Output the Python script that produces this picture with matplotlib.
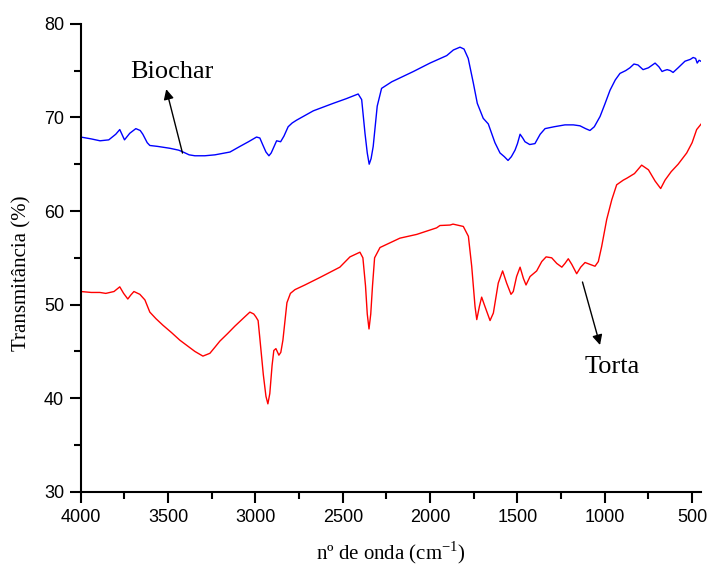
import matplotlib
matplotlib.use("Agg")
import matplotlib.pyplot as plt
from matplotlib.ticker import MultipleLocator

# FTIR spectra: wavenumber (cm-1) vs transmittance (%)
biochar_wn = [4000, 3940, 3890, 3840, 3800, 3777, 3750, 3720, 3685, 3660, 3645, 3620, 3605,
              3560, 3490, 3440, 3414, 3380, 3347, 3290, 3232, 3146, 3089, 3040, 2994, 2975,
              2959, 2940, 2923, 2910, 2898, 2879, 2856, 2837, 2813, 2790, 2765, 2669, 2555,
              2480, 2412, 2392, 2373, 2360, 2349, 2338, 2326, 2303, 2278, 2220, 2096, 2001,
              1905, 1867, 1829, 1806, 1782, 1753, 1730, 1696, 1667, 1629, 1600, 1575, 1554,
              1535, 1514, 1500, 1485, 1470, 1457, 1430, 1400, 1370, 1342, 1290, 1228, 1180,
              1142, 1110, 1085, 1060, 1027, 1000, 970, 940, 913, 880, 856, 833, 810, 781,
              750, 712, 690, 672, 660, 643, 625, 609, 580, 541, 510, 494, 480, 471, 460, 450]
biochar_t = [67.9, 67.7, 67.5, 67.6, 68.2, 68.7, 67.6, 68.3, 68.8, 68.6, 68.2, 67.3, 67.0,
             66.9, 66.7, 66.5, 66.3, 66.0, 65.9, 65.9, 66.0, 66.3, 66.9, 67.4, 67.9, 67.8,
             67.1, 66.3, 65.9, 66.2, 66.7, 67.5, 67.4, 68.0, 69.0, 69.4, 69.7, 70.7, 71.5,
             72.0, 72.5, 71.9, 68.3, 66.2, 65.0, 65.6, 66.9, 71.2, 73.1, 73.8, 74.9, 75.8,
             76.6, 77.2, 77.5, 77.3, 76.3, 73.7, 71.5, 69.9, 69.3, 67.3, 66.2, 65.8, 65.4,
             65.8, 66.5, 67.2, 68.2, 67.8, 67.4, 67.1, 67.2, 68.2, 68.8, 69.0, 69.2, 69.2,
             69.1, 68.8, 68.6, 69.0, 70.1, 71.4, 72.9, 74.0, 74.7, 75.0, 75.3, 75.7, 75.6,
             75.1, 75.3, 75.8, 75.4, 74.9, 75.0, 75.1, 75.0, 74.8, 75.3, 76.0, 76.2, 76.4,
             76.3, 75.8, 76.1, 76.0]

torta_wn = [4000, 3940, 3891, 3857, 3810, 3777, 3755, 3731, 3715, 3696, 3662, 3633, 3605,
            3570, 3530, 3480, 3433, 3390, 3347, 3301, 3261, 3230, 3204, 3160, 3118, 3061,
            3032, 3010, 2998, 2985, 2975, 2955, 2940, 2929, 2918, 2905, 2895, 2883, 2866,
            2855, 2843, 2820, 2800, 2774, 2717, 2631, 2517, 2459, 2402, 2385, 2370, 2360,
            2350, 2340, 2330, 2318, 2287, 2173, 2077, 1963, 1944, 1886, 1869, 1810, 1781,
            1762, 1743, 1733, 1718, 1705, 1690, 1657, 1638, 1610, 1585, 1562, 1537, 1524,
            1505, 1485, 1466, 1451, 1428, 1390, 1361, 1336, 1304, 1275, 1246, 1228, 1209,
            1189, 1161, 1138, 1113, 1085, 1056, 1037, 1018, 989, 960, 932, 894, 874, 830,
            789, 750, 712, 680, 655, 620, 580, 531, 500, 474, 448]
torta_t = [51.4, 51.3, 51.3, 51.2, 51.4, 51.9, 51.2, 50.6, 51.0, 51.4, 51.1, 50.5, 49.2,
           48.5, 47.8, 47.0, 46.2, 45.6, 45.0, 44.5, 44.8, 45.5, 46.1, 46.9, 47.7, 48.7,
           49.2, 49.0, 48.7, 48.3, 46.4, 42.5, 40.2, 39.4, 40.5, 43.5, 45.1, 45.3, 44.6,
           44.9, 46.2, 50.2, 51.2, 51.6, 52.1, 52.9, 54.0, 55.1, 55.6, 55.0, 52.0, 49.0,
           47.4, 49.0, 52.0, 55.0, 56.1, 57.1, 57.5, 58.2, 58.45, 58.5, 58.6, 58.35, 57.3,
           54.1, 49.8, 48.4, 49.8, 50.8, 50.0, 48.3, 49.1, 52.3, 53.6, 52.3, 51.1, 51.4,
           53.0, 54.0, 52.8, 52.1, 53.0, 53.6, 54.6, 55.1, 55.0, 54.4, 54.0, 54.4, 54.9,
           54.3, 53.3, 54.0, 54.5, 54.3, 54.1, 54.6, 56.2, 59.1, 61.2, 62.8, 63.3, 63.5,
           64.0, 64.9, 64.4, 63.2, 62.4, 63.3, 64.2, 65.0, 66.2, 67.3, 68.7, 69.3]

fig = plt.figure(figsize=(7.09, 5.66), dpi=100)
ax = fig.add_axes([0.114, 0.131, 0.875, 0.827])

ax.plot(biochar_wn, biochar_t, color='#0000ff', lw=1.0)
ax.plot(torta_wn, torta_t, color='#ff0000', lw=1.0)

ax.set_xlim(4000, 448)
ax.set_ylim(30, 80)
ax.xaxis.set_major_locator(MultipleLocator(500))
ax.xaxis.set_minor_locator(MultipleLocator(250))
ax.yaxis.set_major_locator(MultipleLocator(10))
ax.yaxis.set_minor_locator(MultipleLocator(5))

for side in ['top', 'right']:
    ax.spines[side].set_visible(False)
for side in ['left', 'bottom']:
    ax.spines[side].set_linewidth(1.5)
ax.tick_params(which='major', direction='out', length=8, width=1.5, labelsize=13, pad=4)
ax.tick_params(which='minor', direction='out', length=5, width=1.5)
for lbl in ax.get_xticklabels() + ax.get_yticklabels():
    lbl.set_family('Liberation Sans')

serif = 'Liberation Serif'
ax.set_xlabel(r'nº de onda (cm$^{\mathregular{-1}}$)', family=serif, fontsize=15, labelpad=10)
ax.set_ylabel('Transmitância (%)', family=serif, fontsize=15)
ax.yaxis.set_label_coords(-0.08, 0.468)

# sample labels with arrows
ax.annotate('', xy=(3515, 73.3), xytext=(3414, 65.9),
            arrowprops=dict(arrowstyle='-|>', color='black', lw=1.0, mutation_scale=15))
ax.text(3720, 74.8, 'Biochar', family=serif, fontsize=19, ha='left', va='center')
ax.annotate('', xy=(1023, 45.4), xytext=(1132, 52.7),
            arrowprops=dict(arrowstyle='-|>', color='black', lw=1.0, mutation_scale=15))
ax.text(960, 43.3, 'Torta', family=serif, fontsize=19, ha='center', va='center')

fig.savefig('out.png', dpi=100)
